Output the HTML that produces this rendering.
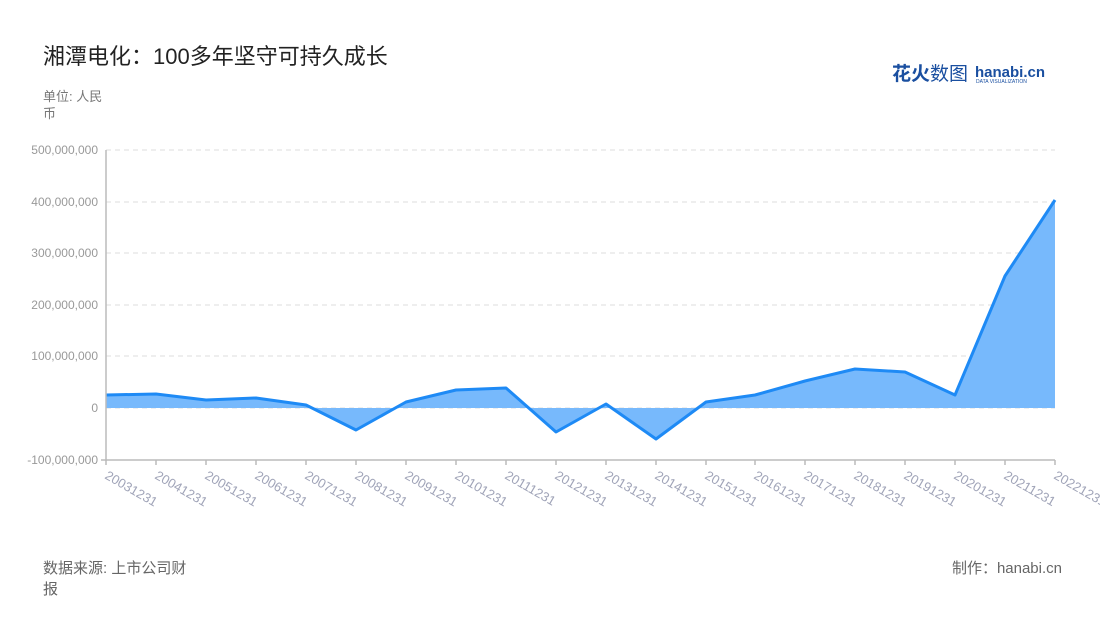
<!DOCTYPE html>
<html><head><meta charset="utf-8"><style>
body{margin:0;background:#fff;font-family:"Liberation Sans","Noto Sans CJK SC",sans-serif;}
</style></head><body>
<svg width="1100" height="620" xmlns="http://www.w3.org/2000/svg" font-family="Liberation Sans, Noto Sans CJK SC, sans-serif">
<rect width="1100" height="620" fill="#fff"/>
<text x="43" y="64" font-size="22" fill="#222">湘潭电化：100多年坚守可持久成长</text>
<text x="43" y="101" font-size="13" fill="#777">单位: 人民</text>
<text x="43" y="118" font-size="13" fill="#777">币</text>
<text x="892" y="80" font-size="19" font-weight="bold" fill="#1a4fa0">花火<tspan font-weight="normal">数图</tspan></text>
<text x="975" y="77" font-size="15" font-weight="bold" fill="#1a4fa0">hanabi.cn</text>
<text x="976" y="83" font-size="5" fill="#1a4fa0">DATA VISUALIZATION</text>
<g stroke="#ddd" stroke-dasharray="5,4" stroke-width="1">
<line x1="106" y1="150" x2="1055" y2="150"/><line x1="106" y1="202" x2="1055" y2="202"/>
<line x1="106" y1="253" x2="1055" y2="253"/><line x1="106" y1="305" x2="1055" y2="305"/>
<line x1="106" y1="356" x2="1055" y2="356"/><line x1="106" y1="408" x2="1055" y2="408"/>
</g>
<g font-size="12" fill="#999" text-anchor="end">
<text x="98" y="154">500,000,000</text><text x="98" y="206">400,000,000</text>
<text x="98" y="257">300,000,000</text><text x="98" y="309">200,000,000</text>
<text x="98" y="360">100,000,000</text><text x="98" y="412">0</text>
<text x="98" y="464">-100,000,000</text>
</g>
<path d="M106,408 L106,395 L156,394 L206,400 L256,398 L306,405 L356,430 L406,402 L456,390 L506,388 L556,432 L606,404 L656,439 L706,402 L755,395 L805,381 L855,369 L905,372 L955,395 L1005,276 L1055,200 L1055,408 Z" fill="#77b9fc"/>
<polyline points="106,395 156,394 206,400 256,398 306,405 356,430 406,402 456,390 506,388 556,432 606,404 656,439 706,402 755,395 805,381 855,369 905,372 955,395 1005,276 1055,200" fill="none" stroke="#1e8af5" stroke-width="3" stroke-linejoin="round"/>
<g stroke="#bbb" stroke-width="1.5">
<line x1="106" y1="150" x2="106" y2="461"/><line x1="101" y1="460" x2="1055" y2="460"/>
<line x1="106" y1="460" x2="106" y2="465"/><line x1="156" y1="460" x2="156" y2="465"/><line x1="206" y1="460" x2="206" y2="465"/><line x1="256" y1="460" x2="256" y2="465"/><line x1="306" y1="460" x2="306" y2="465"/><line x1="356" y1="460" x2="356" y2="465"/><line x1="406" y1="460" x2="406" y2="465"/><line x1="456" y1="460" x2="456" y2="465"/><line x1="506" y1="460" x2="506" y2="465"/><line x1="556" y1="460" x2="556" y2="465"/><line x1="606" y1="460" x2="606" y2="465"/><line x1="656" y1="460" x2="656" y2="465"/><line x1="706" y1="460" x2="706" y2="465"/><line x1="755" y1="460" x2="755" y2="465"/><line x1="805" y1="460" x2="805" y2="465"/><line x1="855" y1="460" x2="855" y2="465"/><line x1="905" y1="460" x2="905" y2="465"/><line x1="955" y1="460" x2="955" y2="465"/><line x1="1005" y1="460" x2="1005" y2="465"/><line x1="1055" y1="460" x2="1055" y2="465"/>
</g>
<g font-size="13" fill="#a0a4b8">
<text transform="translate(104,478) rotate(30)">20031231</text>
<text transform="translate(154,478) rotate(30)">20041231</text>
<text transform="translate(204,478) rotate(30)">20051231</text>
<text transform="translate(254,478) rotate(30)">20061231</text>
<text transform="translate(304,478) rotate(30)">20071231</text>
<text transform="translate(354,478) rotate(30)">20081231</text>
<text transform="translate(404,478) rotate(30)">20091231</text>
<text transform="translate(454,478) rotate(30)">20101231</text>
<text transform="translate(504,478) rotate(30)">20111231</text>
<text transform="translate(554,478) rotate(30)">20121231</text>
<text transform="translate(604,478) rotate(30)">20131231</text>
<text transform="translate(654,478) rotate(30)">20141231</text>
<text transform="translate(704,478) rotate(30)">20151231</text>
<text transform="translate(753,478) rotate(30)">20161231</text>
<text transform="translate(803,478) rotate(30)">20171231</text>
<text transform="translate(853,478) rotate(30)">20181231</text>
<text transform="translate(903,478) rotate(30)">20191231</text>
<text transform="translate(953,478) rotate(30)">20201231</text>
<text transform="translate(1003,478) rotate(30)">20211231</text>
<text transform="translate(1053,478) rotate(30)">20221231</text>
</g>
<text x="43" y="573" font-size="15" fill="#666">数据来源: 上市公司财</text>
<text x="43" y="594" font-size="15" fill="#666">报</text>
<text x="1062" y="573" font-size="15" fill="#666" text-anchor="end">制作：hanabi.cn</text>
</svg>
</body></html>
